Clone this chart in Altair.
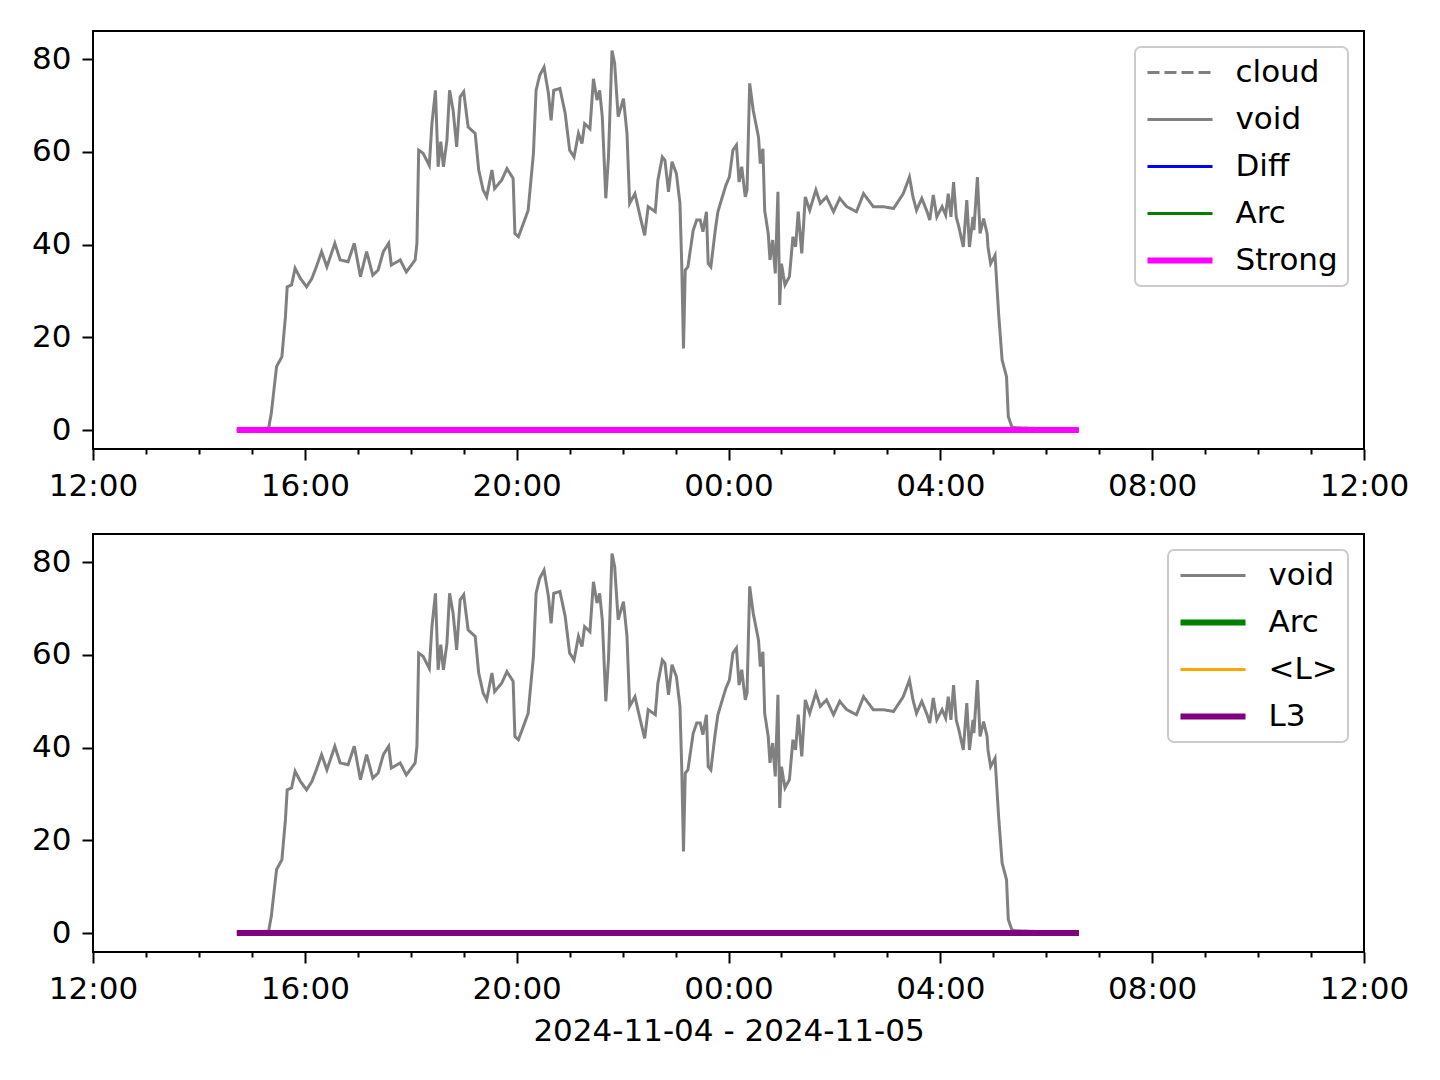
import altair as alt
import pandas as pd

# ---------------- data ----------------
# minutes after 2024-11-04 12:00
void_min = [
    163, 199, 202, 208, 214, 218, 220, 225, 229, 235,
    242, 248, 253, 259, 265, 274, 280, 289, 296, 303,
    310, 317, 323, 329, 335, 338, 348, 355, 365, 367,
    369, 374, 381, 384, 388, 391, 394, 397, 401, 404,
    408, 412, 416, 420, 425, 433, 437, 442, 446, 452,
    455, 463, 469, 476, 478, 482, 489, 493, 499, 502,
    506, 511, 516, 519, 522, 529, 535, 540, 545, 550,
    554, 557, 563, 567, 571, 574, 577, 581, 584, 588,
    591, 595, 601, 605, 608, 614, 620, 625, 629, 637,
    640, 645, 648, 652, 656, 661, 665, 667, 669, 671,
    674, 680, 684, 688, 691, 695, 697, 700, 705, 708,
    713, 717, 721, 725, 729, 732, 735, 739, 741, 744,
    748, 754, 756, 759, 761, 765, 767, 770, 773, 776,
    778, 780, 784, 789, 793, 796, 799, 803, 807, 812,
    819, 824, 831, 839, 846, 854, 865, 873, 884, 895,
    907, 918, 925, 929, 933, 939, 945, 948, 952, 956,
    962, 966, 969, 972, 975, 978, 981, 986, 990, 993,
    997, 998, 1002, 1005, 1009, 1013, 1014, 1017, 1022, 1026,
    1030, 1035, 1037, 1041, 1045, 1117,
]
void_val = [
    0, 0.4, 3.6, 13.7, 15.8, 24.4, 30.9, 31.3, 34.9, 32.7,
    30.9, 32.7, 35.2, 38.5, 35.2, 40.3, 36.7, 36.3, 40.3, 33.1,
    38.5, 33.4, 34.5, 38.5, 40.3, 35.6, 36.7, 34.1, 36.7, 40.3,
    60.4, 59.7, 57.1, 66.1, 73.3, 56.8, 62.2, 56.8, 62.5, 73.3,
    69, 61.1, 71.9, 73, 65.4, 64, 56.1, 51.8, 50.3, 56.1,
    52.1, 53.9, 56.4, 54.3, 42.4, 41.7, 45.3, 47.4, 59.7, 73.3,
    76.5, 78.3, 72.6, 66.8, 73.3, 73.7, 68.3, 60.4, 58.9, 64,
    61.8, 66.1, 65, 75.8, 71.2, 73.3, 67.6, 50, 58.9, 81.9,
    79.1, 67.6, 71.5, 64, 48.9, 51, 46, 42, 48.2, 47.1,
    53.9, 58.9, 58.2, 51.4, 57.9, 55.3, 48.9, 35.9, 17.6, 34.5,
    35.2, 43.1, 45.3, 45.3, 42.8, 47.1, 35.9, 35.2, 43.1, 47.1,
    50.3, 52.8, 54.6, 60.4, 61.5, 53.5, 56.8, 50.3, 51.8, 74.8,
    69, 63.2, 57.5, 60.7, 47.4, 42.4, 36.7, 41, 33.8, 51.4,
    27, 35.9, 31.3, 33.1, 41.7, 39.5, 47.1, 38.1, 50.3, 47.4,
    51.8, 48.9, 50.3, 47.1, 50, 48.2, 47.1, 51, 48.2, 48.2,
    47.8, 51, 54.6, 50.3, 47.4, 50, 47.1, 45.3, 50.7, 46,
    48.2, 46.4, 51, 46, 53.5, 46, 43.8, 39.5, 49.6, 39.5,
    46, 43.1, 54.6, 42.4, 45.6, 42.4, 39.5, 35.9, 37.7, 25.2,
    15.1, 11.5, 2.9, 0.7, 0.5, 0,
]
zero_min = [163, 1117]
zero_val = [0, 0]

top_series = ["cloud", "void", "Diff", "Arc", "Strong"]
top_colors = ["#808080", "#808080", "#0000ff", "#008000", "#ff00ff"]
top_widths = [3, 3, 3, 3, 6]
top_dashes = [[12, 5], [1, 0], [1, 0], [1, 0], [1, 0]]
top_zero = ["Diff", "Arc", "Strong"]

bot_series = ["void", "Arc", "<L>", "L3"]
bot_colors = ["#808080", "#008000", "#ffa500", "#800080"]
bot_widths = [3, 6, 3, 6]
bot_dashes = [[1, 0], [1, 0], [1, 0], [1, 0]]
bot_zero = ["Arc", "<L>", "L3"]

x_title = "2024-11-04 - 2024-11-05"
base = pd.Timestamp("2024-11-04 12:00:00")


def frame(mins, vals, name):
    return pd.DataFrame({
        "time": [base + pd.Timedelta(minutes=m) for m in mins],
        "value": vals,
        "series": name,
    })


void_df = frame(void_min, void_val, "void")

x_domain = [alt.DateTime(year=2024, month=11, date=4, hours=12),
            alt.DateTime(year=2024, month=11, date=5, hours=12)]
hour_ticks = [alt.DateTime(year=2024, month=11, date=4 + h // 24, hours=h % 24)
              for h in range(12, 37)]

FONT = "DejaVu Sans"
FS = 31

legend = alt.Legend(
    title=None, orient="top-right", offset=16, padding=10,
    fillColor="white", strokeColor="#cccccc", cornerRadius=6,
    labelFont=FONT, labelFontSize=FS, labelColor="black",
    symbolType="M-2.71,0H2.71", symbolSize=576, symbolOffset=19.5,
    labelOffset=40, rowPadding=15,
)


def panel(series, colors, widths, dashes, zeros, title):
    x_axis_kwargs = dict(
        values=hour_ticks, grid=False, labelOverlap=False, labelFlush=False,
        labelExpr="hours(datum.value) % 4 == 0 ? timeFormat(datum.value, '%H:%M') : ''",
        tickSize={"condition": {"test": "hours(datum.value) % 4 == 0", "value": 11}, "value": 5},
        labelPadding=11,
    )
    if title:
        x_axis_kwargs.update(title=title, titlePadding=12)
    else:
        x_axis_kwargs.update(title=None)
    x = alt.X("time:T", scale=alt.Scale(domain=x_domain), axis=alt.Axis(**x_axis_kwargs))
    y = alt.Y("value:Q", scale=alt.Scale(domain=[-4.1, 86.1], nice=False, zero=False),
              axis=alt.Axis(values=[0, 20, 40, 60, 80], title=None, grid=False,
                            tickSize=11, labelPadding=11, minExtent=84, maxExtent=84))
    color = alt.Color("series:N", scale=alt.Scale(domain=series, range=colors), legend=legend)
    sw = alt.StrokeWidth("series:N", scale=alt.Scale(type="ordinal", domain=series, range=widths), legend=legend)
    sd = alt.StrokeDash("series:N", scale=alt.Scale(domain=series, range=dashes), legend=legend)
    layers = []
    for df in [void_df] + [frame(zero_min, zero_val, n) for n in zeros]:
        layers.append(
            alt.Chart(df).mark_line().encode(x=x, y=y, color=color, strokeWidth=sw, strokeDash=sd)
        )
    return alt.layer(*layers).properties(width=1271, height=418)


top = panel(top_series, top_colors, top_widths, top_dashes, top_zero, None)
bottom = panel(bot_series, bot_colors, bot_widths, bot_dashes, bot_zero, x_title)

chart = (
    alt.vconcat(top, bottom, spacing=85, bounds="flush")
    .resolve_scale(color="independent", strokeWidth="independent", strokeDash="independent")
    .properties(padding={"left": 0, "top": 22, "right": 5, "bottom": 5})
    .configure_view(stroke="black", strokeWidth=2)
    .configure_axis(labelFont=FONT, labelFontSize=FS, labelColor="black",
                    tickColor="black", tickWidth=2, domain=False,
                    titleFont=FONT, titleFontSize=FS, titleFontWeight="normal",
                    titleColor="black")
    .configure_legend(strokeWidth=2)
)

chart.save("out.html", embed_options={"renderer": "svg", "actions": False})
